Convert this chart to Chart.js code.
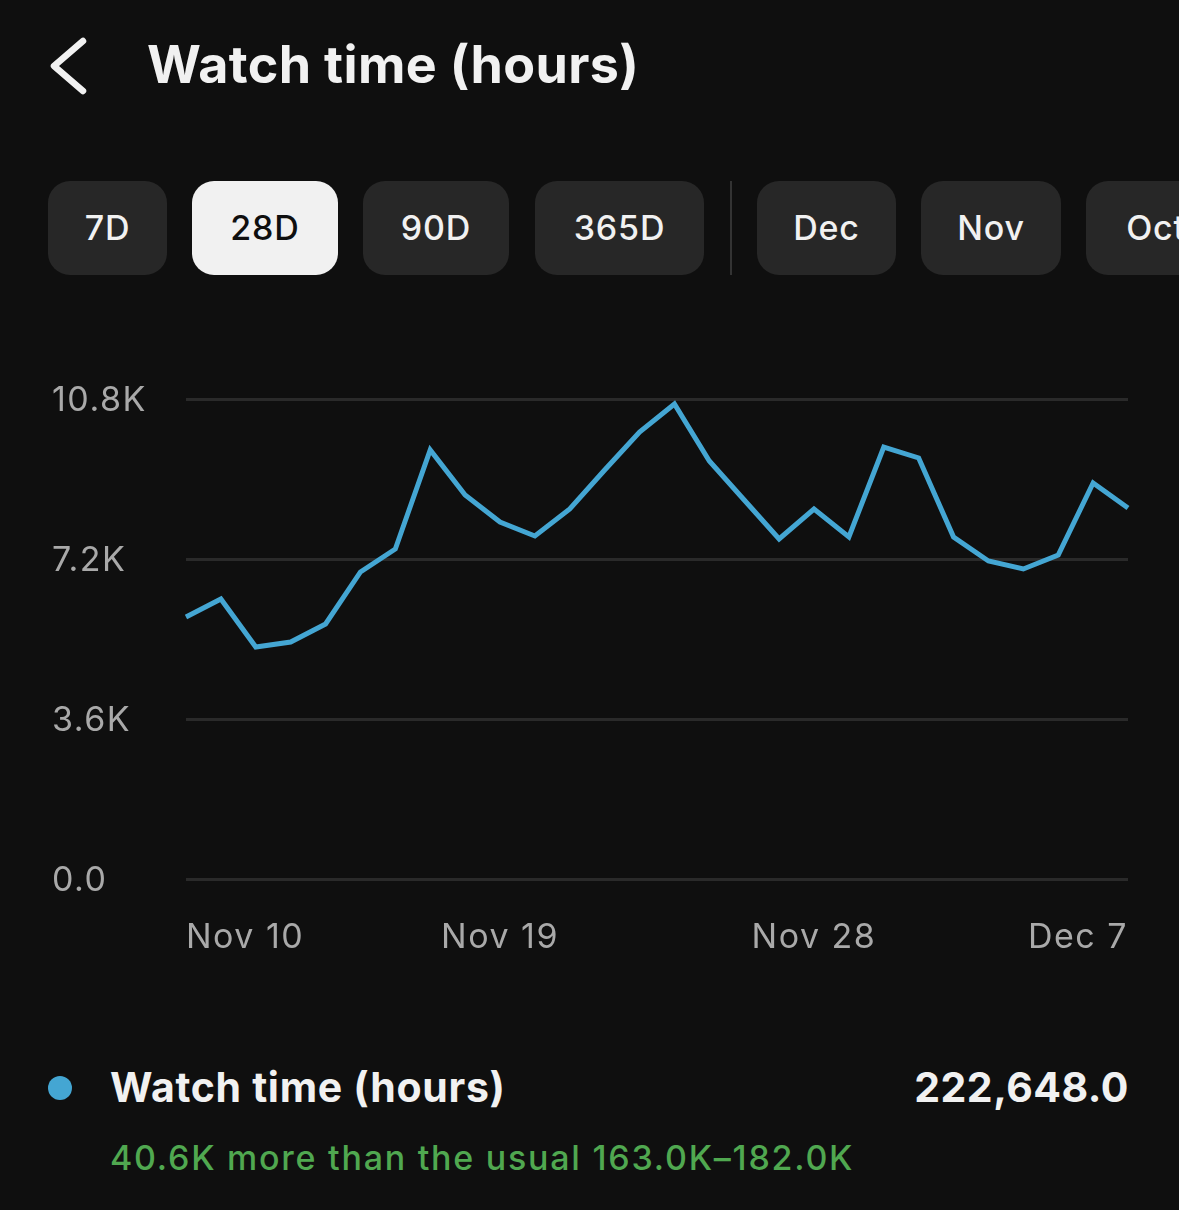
<!DOCTYPE html>
<html>
<head>
<meta charset="utf-8">
<script src="https://cdn.jsdelivr.net/npm/chart.js@4.4.1/dist/chart.umd.min.js"></script>
<style>
  html, body { margin:0; padding:0; background:#0f0f0f; width:1179px; height:1210px; overflow:hidden;
    font-family: Inter, "Noto Sans", sans-serif; color:#f1f1f1; }
  .abs { position:absolute; white-space:nowrap; }
  #title { left:147px; top:39px; font-size:52px; line-height:52px; font-weight:700; letter-spacing:0.35px; }
  .btn { position:absolute; top:181px; height:94px; border-radius:22px; background:#272727;
    display:flex; align-items:center; justify-content:center; font-size:34px; line-height:34px; font-weight:500; color:#f1f1f1; letter-spacing:0.8px; }
  .btn.sel { background:#f1f1f1; color:#0f0f0f; }
  #sep { position:absolute; left:730px; top:181px; width:2px; height:94px; background:#333; }
  #chartWrap { position:absolute; left:0; top:360px; width:1179px; height:620px; }
  #dot { position:absolute; left:48px; top:1076px; width:24px; height:24px; border-radius:50%; background:#44a6d3; }
  #legName { left:110px; top:1067px; font-size:41px; line-height:41px; font-weight:700; letter-spacing:0.7px; }
  #legTotal { right:50px; top:1067px; font-size:41px; line-height:41px; font-weight:700; letter-spacing:0.5px; }
  #legNote { left:110px; top:1141px; font-size:34px; line-height:34px; font-weight:500; color:#50a850; letter-spacing:1.75px; }
</style>
</head>
<body>
<svg class="abs" style="left:0;top:0" width="120" height="120">
  <polyline points="83,41 54,66 83,91" fill="none" stroke="#f1f1f1" stroke-width="6.5" stroke-linecap="round" stroke-linejoin="round"/>
</svg>
<div id="title" class="abs">Watch time (hours)</div>

<div class="btn" style="left:48px;width:119px;">7D</div>
<div class="btn sel" style="left:192px;width:146px;">28D</div>
<div class="btn" style="left:363px;width:146px;">90D</div>
<div class="btn" style="left:535px;width:169px;">365D</div>
<div id="sep"></div>
<div class="btn" style="left:757px;width:139px;">Dec</div>
<div class="btn" style="left:921px;width:140px;">Nov</div>
<div class="btn" style="left:1086px;width:140px;">Oct</div>

<div id="chartWrap"><canvas id="c" width="1179" height="620"></canvas></div>

<div id="dot"></div>
<div id="legName" class="abs">Watch time (hours)</div>
<div id="legTotal" class="abs">222,648.0</div>
<div id="legNote" class="abs">40.6K more than the usual 163.0K–182.0K</div>

<script>
// ---- data ----
const categories = [
  'Nov 10','Nov 11','Nov 12','Nov 13','Nov 14','Nov 15','Nov 16','Nov 17','Nov 18','Nov 19',
  'Nov 20','Nov 21','Nov 22','Nov 23','Nov 24','Nov 25','Nov 26','Nov 27','Nov 28','Nov 29',
  'Nov 30','Dec 1','Dec 2','Dec 3','Dec 4','Dec 5','Dec 6','Dec 7'
];
const watchHours = [
  5895, 6300, 5220, 5333, 5738, 6908, 7425, 9653, 8640, 8033,
  7718, 8325, 9203, 10058, 10688, 9405, 8528, 7650, 8325, 7695,
  9720, 9473, 7695, 7155, 6975, 7290, 8910, 8348
];
const xTickLabels = ['Nov 10', 'Nov 19', 'Nov 28', 'Dec 7'];
const yTickValues = [0, 3600, 7200, 10800];
const yTickLabels = ['0.0', '3.6K', '7.2K', '10.8K'];

const lineColor = '#44a6d3';
const gridColor = '#2a2a2a';
const tickColor = '#a9a9a9';
const tickFont = { family: 'Inter, "Noto Sans", sans-serif', size: 34, weight: '400' };

const letterSpacingPlugin = {
  id: 'letterSpacing',
  beforeUpdate(chart) { chart.ctx.letterSpacing = '1.5px'; },
  beforeDraw(chart) { chart.ctx.letterSpacing = '1.5px'; }
};

new Chart(document.getElementById('c'), {
  type: 'line',
  data: {
    labels: categories,
    datasets: [{
      label: 'Watch time (hours)',
      data: watchHours,
      borderColor: lineColor,
      borderWidth: 5,
      pointRadius: 0,
      pointHoverRadius: 0,
      tension: 0,
      fill: false
    }]
  },
  plugins: [letterSpacingPlugin],
  options: {
    responsive: false,
    animation: false,
    layout: { padding: { left: 52, right: 51, top: 39, bottom: 0 } },
    plugins: { legend: { display: false }, tooltip: { enabled: false } },
    scales: {
      x: {
        grid: { display: false, drawTicks: false },
        border: { display: false },
        ticks: {
          autoSkip: false, maxRotation: 0, minRotation: 0,
          align: 'inner', padding: 38,
          color: tickColor, font: tickFont,
          callback: function(value) {
            const lab = this.getLabelForValue(value);
            return xTickLabels.includes(lab) ? lab : '';
          }
        },
        afterFit: (s) => { s.height = 101; }
      },
      y: {
        min: 0, max: 10800,
        grid: { color: gridColor, lineWidth: 3, drawTicks: false },
        border: { display: false },
        ticks: {
          crossAlign: 'far', padding: 0, labelOffset: 2,
          color: tickColor, font: tickFont,
          callback: (v) => { const i = yTickValues.indexOf(v); return i >= 0 ? yTickLabels[i] : ''; }
        },
        afterBuildTicks: (s) => { s.ticks = yTickValues.map(v => ({ value: v })); },
        afterFit: (s) => { s.width = 134; }
      }
    }
  }
});
</script>
</body>
</html>
